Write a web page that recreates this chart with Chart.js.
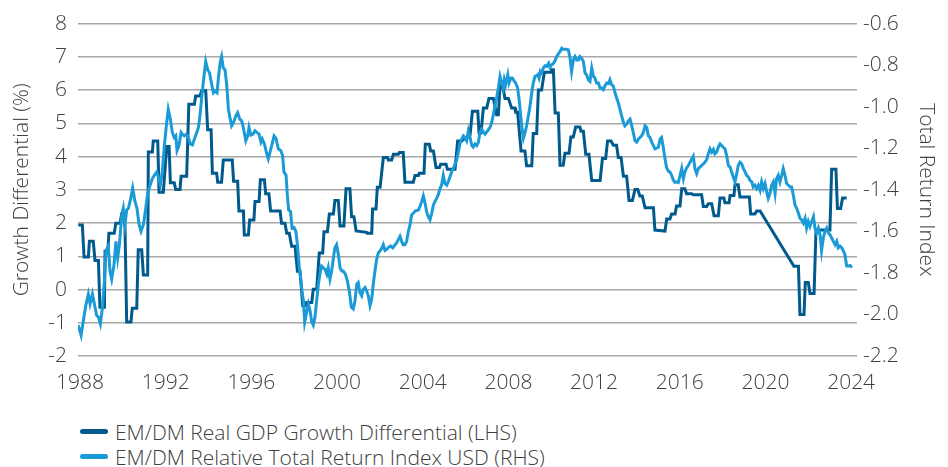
<!DOCTYPE html>
<html>
<head>
<meta charset="utf-8">
<script src="https://cdn.jsdelivr.net/npm/chart.js@4.4.0/dist/chart.umd.min.js"></script>
<style>
  body { margin: 0; background: #fff; font-family: "Open Sans", sans-serif; }
  #wrap { position: relative; width: 948px; height: 467px; }
  #chart { position: absolute; left: 0; top: 0; }
  #legend { position: absolute; left: 80px; top: 419px; font-size: 21px; font-weight: 300; color: #404040; }
  .item { display: flex; align-items: center; height: 25px; white-space: nowrap; }
  .swatch { width: 28px; height: 5px; border-radius: 3px; margin-right: 7px; }
</style>
</head>
<body>
<div id="wrap">
  <canvas id="chart" width="948" height="410"></canvas>
  <div id="legend"></div>
</div>
<script>
// x axis labels (years)
let xTicks = [1988, 1992, 1996, 2000, 2004, 2008, 2012, 2016, 2020, 2024];

let seriesNames = [
    "EM/DM Real GDP Growth Differential (LHS)",
    "EM/DM Relative Total Return Index USD (RHS)"
];
let seriesColors = ["#005a8e", "#1a9ad6"];

// EM/DM real GDP growth differential, % (left axis) - [year, value]
let gdpPoints = [
    [1987.92, 1.94], [1988.11, 1.94], [1988.19, 0.98], [1988.39, 0.98], [1988.44, 1.45], [1988.62, 1.45],
    [1988.70, 0.87], [1988.86, 0.87], [1988.93, -0.53], [1989.14, -0.53], [1989.17, 1.15], [1989.30, 1.15],
    [1989.35, 1.69], [1989.60, 1.69], [1989.67, 1.99], [1989.87, 1.99], [1989.95, 2.29], [1990.02, 2.29],
    [1990.10, 1.89], [1990.18, -0.98], [1990.38, -0.98], [1990.44, -0.56], [1990.65, -0.56], [1990.72, 1.20],
    [1990.88, 1.20], [1990.96, 0.44], [1991.16, 0.44], [1991.19, 4.14], [1991.38, 4.14], [1991.42, 4.47],
    [1991.63, 4.47], [1991.69, 2.93], [1991.89, 2.93], [1992.05, 4.30], [1992.16, 4.30], [1992.22, 3.21],
    [1992.40, 3.21], [1992.47, 3.01], [1992.67, 3.01], [1992.72, 3.41], [1992.98, 3.41], [1993.08, 5.57],
    [1993.34, 5.57], [1993.40, 5.82], [1993.60, 5.82], [1993.68, 5.98], [1993.87, 5.98], [1993.96, 4.81],
    [1994.12, 4.81], [1994.18, 3.50], [1994.38, 3.50], [1994.43, 3.23], [1994.61, 3.23], [1994.69, 3.90],
    [1995.11, 3.90], [1995.17, 3.26], [1995.36, 3.26], [1995.42, 2.36], [1995.63, 2.36], [1995.67, 1.64],
    [1995.86, 1.64], [1995.92, 2.09], [1996.12, 2.09], [1996.17, 2.65], [1996.36, 2.65], [1996.42, 3.30],
    [1996.61, 3.30], [1996.67, 2.88], [1996.82, 2.88], [1996.90, 2.36], [1997.34, 2.36], [1997.41, 1.99],
    [1997.57, 1.99], [1997.65, 1.69], [1997.77, 1.69], [1997.88, 1.30], [1998.04, 1.30], [1998.15, 0.55],
    [1998.27, 0.55], [1998.40, -0.49], [1998.55, -0.49], [1998.58, -0.39], [1998.82, -0.39], [1998.89, 0.01],
    [1999.05, 0.01], [1999.17, 1.10], [1999.33, 1.10], [1999.39, 1.74], [1999.55, 1.74], [1999.64, 2.27],
    [1999.83, 2.27], [1999.90, 2.68], [2000.06, 2.68], [2000.14, 1.91], [2000.32, 1.91], [2000.42, 3.03],
    [2000.60, 3.03], [2000.68, 2.19], [2000.79, 2.19], [2000.89, 1.76], [2001.38, 1.72], [2001.41, 1.69],
    [2001.62, 1.69], [2001.66, 2.42], [2001.82, 2.42], [2001.88, 3.08], [2002.01, 3.08], [2002.16, 3.97],
    [2002.35, 3.97], [2002.39, 3.90], [2002.55, 3.90], [2002.63, 4.07], [2002.86, 4.07], [2002.91, 4.12],
    [2003.09, 4.12], [2003.17, 3.23], [2003.56, 3.23], [2003.64, 3.43], [2003.80, 3.43], [2003.84, 3.50],
    [2004.06, 3.50], [2004.12, 4.37], [2004.31, 4.37], [2004.37, 4.17], [2004.50, 4.17], [2004.62, 3.67],
    [2004.78, 3.67], [2004.84, 3.77], [2005.09, 3.77], [2005.15, 3.62], [2005.51, 3.62], [2005.63, 4.47],
    [2005.82, 4.47], [2005.97, 4.55], [2006.21, 4.65], [2006.32, 5.36], [2006.57, 5.36], [2006.63, 4.71],
    [2006.72, 4.71], [2006.83, 5.46], [2006.99, 5.46], [2007.09, 5.75], [2007.30, 5.75], [2007.45, 5.26],
    [2007.53, 5.26], [2007.61, 6.15], [2007.72, 6.15], [2007.84, 5.75], [2008.00, 5.75], [2008.15, 5.46],
    [2008.31, 5.46], [2008.34, 5.33], [2008.43, 5.33], [2008.59, 4.17], [2008.77, 4.17], [2008.85, 3.72],
    [2009.09, 3.72], [2009.16, 4.69], [2009.32, 4.69], [2009.40, 6.00], [2009.55, 6.00], [2009.68, 6.54],
    [2009.99, 6.54], [2010.02, 6.61], [2010.10, 6.61], [2010.18, 5.31], [2010.33, 5.31], [2010.41, 3.74],
    [2010.56, 3.74], [2010.64, 4.10], [2010.83, 4.10], [2010.92, 4.59], [2011.03, 4.59], [2011.14, 4.89],
    [2011.34, 4.89], [2011.39, 4.76], [2011.50, 4.76], [2011.61, 4.07], [2011.76, 4.07], [2011.89, 3.28],
    [2012.28, 3.28], [2012.39, 3.94], [2012.54, 3.94], [2012.63, 4.47], [2012.79, 4.47], [2012.90, 4.34],
    [2013.05, 4.34], [2013.13, 3.97], [2013.26, 3.97], [2013.37, 3.41], [2013.52, 3.41], [2013.63, 2.68],
    [2013.79, 2.68], [2013.91, 3.01], [2014.04, 3.01], [2014.14, 2.81], [2014.25, 2.81], [2014.38, 2.46],
    [2014.77, 2.46], [2014.84, 1.79], [2015.31, 1.76], [2015.39, 2.12], [2015.54, 2.12], [2015.62, 2.27],
    [2015.78, 2.27], [2015.85, 2.51], [2016.01, 2.51], [2016.09, 3.03], [2016.24, 3.03], [2016.32, 2.88],
    [2016.56, 2.88], [2016.63, 2.85], [2017.02, 2.85], [2017.10, 2.50], [2017.26, 2.50], [2017.33, 2.58],
    [2017.49, 2.58], [2017.60, 2.22], [2017.80, 2.22], [2017.88, 2.75], [2018.06, 2.75], [2018.11, 2.61],
    [2018.30, 2.61], [2018.35, 2.83], [2018.53, 2.83], [2018.58, 3.15], [2018.73, 3.15], [2018.81, 2.78],
    [2019.25, 2.78], [2019.31, 2.27], [2019.51, 2.27], [2019.59, 2.36], [2019.75, 2.36], [2021.33, 0.70],
    [2021.54, 0.70], [2021.61, -0.75], [2021.80, -0.75], [2021.86, 0.21], [2022.00, 0.21], [2022.08, -0.12],
    [2022.27, -0.12], [2022.36, 1.79], [2023.01, 1.79], [2023.09, 3.62], [2023.29, 3.62], [2023.36, 2.44],
    [2023.51, 2.44], [2023.60, 2.75], [2023.79, 2.75]
];

// EM/DM relative total return index USD (right axis) - [year, value]
let rtrPoints = [
    [1987.92, -2.052], [1988.05, -2.100], [1988.16, -2.029], [1988.27, -1.957], [1988.39, -1.902], [1988.47, -1.949],
    [1988.58, -1.902], [1988.67, -1.949], [1988.78, -2.005], [1988.86, -2.013], [1988.95, -2.045], [1989.04, -1.973],
    [1989.14, -1.838], [1989.21, -1.695], [1989.32, -1.671], [1989.40, -1.791], [1989.48, -1.830], [1989.59, -1.759],
    [1989.68, -1.648], [1989.76, -1.727], [1989.84, -1.664], [1989.95, -1.521], [1990.02, -1.489], [1990.10, -1.568],
    [1990.18, -1.497], [1990.26, -1.489], [1990.37, -1.441], [1990.46, -1.391], [1990.57, -1.457], [1990.66, -1.489],
    [1990.76, -1.568], [1990.85, -1.600], [1990.96, -1.568], [1991.07, -1.489], [1991.16, -1.418], [1991.27, -1.378],
    [1991.38, -1.346], [1991.47, -1.330], [1991.58, -1.314], [1991.66, -1.338], [1991.75, -1.378], [1991.84, -1.314],
    [1991.94, -1.187], [1992.03, -1.092], [1992.12, -1.013], [1992.22, -1.060], [1992.31, -1.124], [1992.40, -1.148],
    [1992.47, -1.140], [1992.53, -1.211], [1992.62, -1.187], [1992.72, -1.124], [1992.78, -1.132], [1992.87, -1.140],
    [1992.97, -1.132], [1993.06, -1.148], [1993.15, -1.179], [1993.25, -1.184], [1993.34, -1.156], [1993.45, -1.124],
    [1993.53, -1.100], [1993.60, -1.045], [1993.68, -0.957], [1993.77, -0.870], [1993.87, -0.783], [1993.96, -0.822],
    [1994.05, -0.838], [1994.15, -0.894], [1994.23, -0.933], [1994.30, -0.925], [1994.40, -0.933], [1994.46, -0.862],
    [1994.55, -0.783], [1994.61, -0.759], [1994.69, -0.814], [1994.77, -0.822], [1994.85, -0.894], [1994.93, -1.013],
    [1995.00, -1.052], [1995.08, -1.092], [1995.17, -1.076], [1995.27, -1.045], [1995.36, -1.029], [1995.46, -1.060],
    [1995.55, -1.068], [1995.64, -1.108], [1995.74, -1.164], [1995.83, -1.140], [1995.89, -1.100], [1995.98, -1.137],
    [1996.08, -1.132], [1996.17, -1.116], [1996.26, -1.124], [1996.36, -1.132], [1996.45, -1.171], [1996.51, -1.156],
    [1996.61, -1.179], [1996.70, -1.219], [1996.79, -1.251], [1996.87, -1.219], [1996.95, -1.187], [1997.06, -1.140],
    [1997.15, -1.152], [1997.26, -1.203], [1997.37, -1.211], [1997.46, -1.235], [1997.52, -1.314], [1997.62, -1.330],
    [1997.68, -1.425], [1997.74, -1.497], [1997.83, -1.505], [1997.90, -1.584], [1997.99, -1.581], [1998.08, -1.600],
    [1998.15, -1.664], [1998.24, -1.775], [1998.30, -1.822], [1998.36, -1.886], [1998.43, -1.933], [1998.49, -2.037],
    [1998.58, -1.989], [1998.66, -1.949], [1998.74, -1.981], [1998.82, -2.037], [1998.89, -2.052], [1998.97, -2.013],
    [1999.05, -1.933], [1999.13, -1.854], [1999.20, -1.806], [1999.28, -1.767], [1999.36, -1.775], [1999.44, -1.783],
    [1999.52, -1.806], [1999.59, -1.775], [1999.67, -1.830], [1999.75, -1.791], [1999.83, -1.727], [1999.90, -1.679],
    [1999.98, -1.664], [2000.06, -1.711], [2000.14, -1.775], [2000.22, -1.791], [2000.29, -1.791], [2000.39, -1.806],
    [2000.48, -1.838], [2000.57, -1.886], [2000.67, -1.965], [2000.76, -1.973], [2000.84, -1.933], [2000.92, -1.854],
    [2000.99, -1.846], [2001.07, -1.894], [2001.15, -1.910], [2001.23, -1.878], [2001.31, -1.870], [2001.38, -1.886],
    [2001.46, -1.910], [2001.54, -1.957], [2001.62, -1.926], [2001.69, -1.854], [2001.77, -1.791], [2001.85, -1.735],
    [2001.93, -1.703], [2002.00, -1.695], [2002.10, -1.679], [2002.16, -1.664], [2002.24, -1.692], [2002.32, -1.687],
    [2002.41, -1.676], [2002.50, -1.671], [2002.60, -1.679], [2002.71, -1.664], [2002.78, -1.656], [2002.86, -1.640],
    [2002.94, -1.624], [2003.02, -1.648], [2003.09, -1.664], [2003.17, -1.664], [2003.25, -1.648], [2003.33, -1.600],
    [2003.41, -1.568], [2003.48, -1.521], [2003.56, -1.513], [2003.64, -1.502], [2003.72, -1.500], [2003.80, -1.497],
    [2003.87, -1.481], [2003.95, -1.457], [2004.03, -1.429], [2004.11, -1.465], [2004.18, -1.505], [2004.26, -1.529],
    [2004.34, -1.545], [2004.42, -1.513], [2004.50, -1.473], [2004.57, -1.457], [2004.65, -1.441], [2004.73, -1.422],
    [2004.81, -1.394], [2004.88, -1.378], [2004.96, -1.330], [2005.04, -1.370], [2005.12, -1.378], [2005.20, -1.359],
    [2005.27, -1.338], [2005.35, -1.314], [2005.43, -1.298], [2005.51, -1.275], [2005.58, -1.259], [2005.66, -1.219],
    [2005.74, -1.179], [2005.82, -1.156], [2005.90, -1.140], [2005.97, -1.148], [2006.05, -1.164], [2006.13, -1.116],
    [2006.21, -1.148], [2006.29, -1.187], [2006.36, -1.195], [2006.44, -1.179], [2006.52, -1.187], [2006.60, -1.171],
    [2006.67, -1.124], [2006.75, -1.108], [2006.83, -1.121], [2006.91, -1.132], [2006.99, -1.121], [2007.06, -1.111],
    [2007.14, -1.100], [2007.22, -1.076], [2007.30, -1.037], [2007.37, -0.997], [2007.45, -0.957], [2007.53, -0.910],
    [2007.61, -0.854], [2007.69, -0.886], [2007.76, -0.910], [2007.81, -0.870], [2007.87, -0.894], [2007.97, -0.846],
    [2008.03, -0.886], [2008.12, -0.862], [2008.18, -0.862], [2008.28, -0.878], [2008.34, -0.886], [2008.43, -0.910],
    [2008.50, -0.965], [2008.56, -1.029], [2008.62, -1.092], [2008.70, -1.152], [2008.78, -1.124], [2008.85, -1.092],
    [2008.93, -1.045], [2009.01, -0.997], [2009.09, -0.933], [2009.16, -0.886], [2009.24, -0.854], [2009.32, -0.851],
    [2009.37, -0.846], [2009.43, -0.862], [2009.49, -0.830], [2009.55, -0.838], [2009.63, -0.814], [2009.71, -0.803],
    [2009.79, -0.806], [2009.88, -0.791], [2009.94, -0.810], [2010.02, -0.799], [2010.10, -0.791], [2010.18, -0.778],
    [2010.25, -0.759], [2010.33, -0.746], [2010.41, -0.735], [2010.49, -0.719], [2010.56, -0.724], [2010.64, -0.724],
    [2010.72, -0.724], [2010.80, -0.727], [2010.88, -0.767], [2010.95, -0.830], [2011.03, -0.775], [2011.11, -0.759],
    [2011.19, -0.775], [2011.27, -0.775], [2011.34, -0.759], [2011.42, -0.767], [2011.50, -0.783], [2011.58, -0.838],
    [2011.65, -0.846], [2011.73, -0.870], [2011.81, -0.878], [2011.89, -0.814], [2011.97, -0.854], [2012.04, -0.862],
    [2012.12, -0.886], [2012.20, -0.886], [2012.28, -0.910], [2012.35, -0.910], [2012.43, -0.918], [2012.51, -0.899],
    [2012.59, -0.886], [2012.67, -0.889], [2012.74, -0.870], [2012.82, -0.894], [2012.90, -0.902], [2012.98, -0.933],
    [2013.05, -0.957], [2013.13, -0.981], [2013.21, -1.013], [2013.29, -1.045], [2013.37, -1.076], [2013.44, -1.092],
    [2013.52, -1.084], [2013.60, -1.068], [2013.68, -1.060], [2013.76, -1.092], [2013.83, -1.124], [2013.91, -1.164],
    [2013.99, -1.171], [2014.07, -1.156], [2014.14, -1.148], [2014.22, -1.140], [2014.30, -1.124], [2014.38, -1.092],
    [2014.46, -1.100], [2014.53, -1.140], [2014.61, -1.148], [2014.69, -1.171], [2014.77, -1.187], [2014.84, -1.203],
    [2014.92, -1.200], [2015.00, -1.195], [2015.08, -1.156], [2015.15, -1.148], [2015.23, -1.195], [2015.31, -1.251],
    [2015.39, -1.295], [2015.47, -1.311], [2015.54, -1.314], [2015.62, -1.330], [2015.70, -1.354], [2015.78, -1.365],
    [2015.85, -1.362], [2015.93, -1.365], [2016.01, -1.333], [2016.09, -1.298], [2016.17, -1.346], [2016.24, -1.314],
    [2016.32, -1.295], [2016.40, -1.283], [2016.48, -1.267], [2016.56, -1.251], [2016.63, -1.238], [2016.71, -1.298],
    [2016.79, -1.322], [2016.87, -1.298], [2016.94, -1.291], [2017.02, -1.283], [2017.10, -1.275], [2017.18, -1.267],
    [2017.26, -1.254], [2017.33, -1.227], [2017.41, -1.203], [2017.49, -1.219], [2017.57, -1.206], [2017.64, -1.227],
    [2017.72, -1.219], [2017.80, -1.195], [2017.88, -1.179], [2017.96, -1.187], [2018.03, -1.195], [2018.11, -1.203],
    [2018.19, -1.235], [2018.27, -1.283], [2018.35, -1.291], [2018.42, -1.314], [2018.50, -1.338], [2018.58, -1.362],
    [2018.66, -1.322], [2018.73, -1.283], [2018.81, -1.267], [2018.89, -1.275], [2018.97, -1.298], [2019.05, -1.314],
    [2019.12, -1.330], [2019.20, -1.338], [2019.28, -1.354], [2019.36, -1.362], [2019.43, -1.386], [2019.51, -1.378],
    [2019.59, -1.394], [2019.67, -1.378], [2019.75, -1.402], [2019.82, -1.362], [2019.90, -1.394], [2019.98, -1.370],
    [2020.06, -1.410], [2020.13, -1.441], [2020.21, -1.418], [2020.29, -1.378], [2020.37, -1.362], [2020.45, -1.418],
    [2020.52, -1.346], [2020.60, -1.330], [2020.68, -1.362], [2020.76, -1.330], [2020.83, -1.298], [2020.91, -1.330],
    [2020.99, -1.370], [2021.07, -1.378], [2021.15, -1.386], [2021.22, -1.386], [2021.30, -1.425], [2021.38, -1.473],
    [2021.46, -1.489], [2021.54, -1.513], [2021.61, -1.537], [2021.69, -1.545], [2021.77, -1.560], [2021.85, -1.537],
    [2021.92, -1.584], [2022.00, -1.552], [2022.08, -1.576], [2022.16, -1.552], [2022.24, -1.529], [2022.31, -1.584],
    [2022.39, -1.608], [2022.47, -1.584], [2022.55, -1.616], [2022.62, -1.692], [2022.70, -1.632], [2022.78, -1.600],
    [2022.86, -1.584], [2022.94, -1.608], [2023.01, -1.616], [2023.09, -1.632], [2023.17, -1.648], [2023.25, -1.664],
    [2023.33, -1.648], [2023.40, -1.679], [2023.48, -1.671], [2023.56, -1.679], [2023.64, -1.695], [2023.71, -1.711],
    [2023.79, -1.767], [2023.87, -1.767], [2023.95, -1.764], [2024.03, -1.775]
];

let textColor = "#404040";
let fontSpec = { family: "Open Sans", size: 21, weight: "300" };

const ctx = document.getElementById("chart");

let chart = new Chart(ctx, {
    type: "line",
    data: {
        datasets: [
            {
                label: seriesNames[0],
                data: gdpPoints.map(p => ({ x: p[0], y: p[1] })),
                borderColor: seriesColors[0],
                borderWidth: 3,
                pointRadius: 0,
                yAxisID: "y",
                order: 1
            },
            {
                label: seriesNames[1],
                data: rtrPoints.map(p => ({ x: p[0], y: p[1] })),
                borderColor: seriesColors[1],
                borderWidth: 3,
                pointRadius: 0,
                yAxisID: "y1",
                order: 0
            }
        ]
    },
    options: {
        responsive: false,
        animation: false,
        layout: { padding: { top: 19, left: 0, right: 0, bottom: 0 } },
        plugins: { legend: { display: false }, tooltip: { enabled: false } },
        scales: {
            x: {
                type: "linear",
                min: 1987.907,
                max: 2024.274,
                grid: { display: false, drawTicks: false },
                border: { display: false },
                ticks: { font: fontSpec, color: textColor, padding: 14, maxRotation: 0, callback: v => String(v) },
                afterBuildTicks: axis => { axis.ticks = xTicks.map(v => ({ value: v })); },
                afterFit: axis => { axis.height = 54; }
            },
            y: {
                position: "left",
                min: -2,
                max: 8,
                ticks: { stepSize: 1, font: fontSpec, color: textColor, padding: 11 },
                grid: { color: "#a8a8a8", lineWidth: 1.5, drawTicks: false },
                border: { display: false },
                title: { display: true, text: "Growth Differential (%)", font: fontSpec, color: textColor, padding: { top: 9, bottom: 0 } },
                afterFit: axis => { axis.width = 78; }
            },
            y1: {
                position: "right",
                min: -2.2,
                max: -0.6,
                ticks: { stepSize: 0.2, font: fontSpec, color: textColor, padding: 6, callback: v => v.toFixed(1) },
                grid: { display: false, drawTicks: false },
                border: { display: false },
                title: { display: true, text: "Total Return Index", font: fontSpec, color: textColor, padding: { top: 9, bottom: 0 } },
                afterFit: axis => { axis.width = 91; }
            }
        }
    }
});

// legend below the chart
let legend = document.getElementById("legend");
seriesNames.forEach((name, i) => {
    let item = document.createElement("div");
    item.className = "item";
    item.innerHTML = `<span class="swatch" style="background:${seriesColors[i]}"></span><span>${name}</span>`;
    legend.appendChild(item);
});
</script>
</body>
</html>
